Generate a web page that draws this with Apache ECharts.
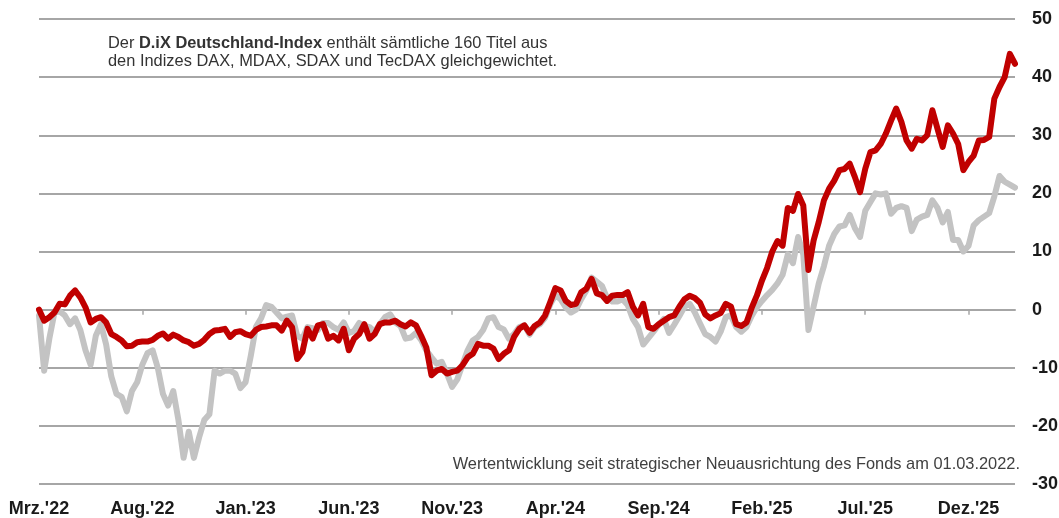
<!DOCTYPE html>
<html>
<head>
<meta charset="utf-8">
<script src="https://cdn.jsdelivr.net/npm/echarts@6/dist/echarts.min.js"></script>
<style>
html,body{margin:0;padding:0;background:#fff;}
#chart{width:1059px;height:518px;}
</style>
</head>
<body>
<div id="chart"></div>
<script>
// Tick labels (every 5 months starting March 2022)
const tickLabels = ["Mrz.'22","Aug.'22","Jan.'23","Jun.'23","Nov.'23","Apr.'24","Sep.'24","Feb.'25","Jul.'25","Dez.'25"];
// sampling step of the series below, in months since 01.03.2022
const stepMonths = 0.25;
// Fund performance in % (red)
const fundValues = [
 0,-1.9,-1.3,-0.5,1.0,0.9,2.4,3.3,2.1,0.4,
 -2.2,-1.6,-1.3,-2.2,-4.2,-4.7,-5.3,-6.3,-6.2,-5.6,
 -5.5,-5.5,-5.2,-4.5,-4.1,-5.0,-4.3,-4.7,-5.3,-5.6,
 -6.2,-5.9,-5.2,-4.2,-3.6,-3.5,-3.3,-4.7,-3.9,-3.7,
 -4.2,-4.5,-3.5,-3.0,-2.9,-2.7,-2.7,-3.6,-1.9,-3.0,
 -8.5,-7.3,-3.3,-5.0,-2.7,-2.5,-5.0,-4.5,-5.3,-3.3,
 -7.0,-5.0,-4.2,-2.5,-5.0,-4.2,-2.5,-2.2,-2.2,-1.9,
 -2.5,-2.9,-2.2,-2.7,-4.5,-6.5,-11.3,-10.5,-10.2,-11.0,
 -10.7,-10.5,-9.6,-8.2,-7.6,-5.9,-6.2,-6.2,-6.7,-8.5,
 -7.6,-7.0,-4.7,-3.3,-2.7,-4.0,-2.8,-2.2,-1.0,1.3,
 3.7,3.3,1.5,0.8,1.0,3.0,3.6,5.3,2.8,2.5,
 1.5,2.4,2.5,2.5,3.0,0.5,-1.0,1.0,-3.0,-3.3,
 -2.5,-1.9,-1.3,-1.0,0.5,1.8,2.4,2.0,1.2,-0.8,
 -1.5,-1.0,-0.6,1.0,0.5,-2.5,-2.8,-2.2,0.3,2.4,
 5.0,7.2,10.0,11.8,11.0,17.5,17.0,19.9,17.9,6.8,
 11.9,15.1,18.8,20.8,22.2,24.0,24.2,25.1,22.8,20.2,
 24.2,27.1,27.4,28.5,30.3,32.5,34.6,32.3,29.1,27.7,
 29.4,29.1,30.0,34.3,31.1,28.0,31.7,30.3,28.5,24.0,
 25.4,26.5,29.1,29.2,29.7,36.3,38.3,40.0,44.0,42.3
];
// D.iX Deutschland-Index performance in % (grey)
const indexValues = [
 -1.0,-10.5,-5.0,-0.5,-0.3,-1.0,-2.5,-1.5,-3.5,-7.0,
 -9.5,-4.5,-2.5,-6.0,-11.5,-14.5,-15.0,-17.5,-14.0,-12.5,
 -9.5,-7.5,-7.0,-10.0,-14.5,-16.5,-14.0,-19.0,-25.5,-21.0,
 -25.5,-22.0,-19.0,-18.0,-10.5,-11.0,-10.5,-10.5,-11.0,-13.5,
 -12.5,-8.0,-3.0,-1.5,0.8,0.5,-0.5,-1.5,-1.2,-1.0,
 -4.5,-5.0,-3.0,-3.2,-3.5,-2.3,-2.3,-3.0,-3.5,-2.2,
 -4.0,-3.7,-2.3,-2.8,-3.0,-3.8,-2.5,-1.3,-0.8,-2.2,
 -2.8,-5.0,-4.8,-4.0,-5.2,-7.0,-8.2,-9.3,-9.0,-11.0,
 -13.3,-12.0,-9.5,-7.0,-5.3,-4.7,-3.5,-1.5,-1.3,-3.0,
 -3.4,-5.0,-4.2,-3.0,-2.7,-4.3,-3.0,-2.5,-1.4,0.9,
 2.5,1.8,0.4,-0.5,0,1.8,3.3,5.5,4.8,4.1,
 2.0,1.4,1.4,1.8,0.8,-1.6,-3.0,-6.0,-4.9,-3.8,
 -2.6,-1.6,-4.0,-2.6,-1.1,0.5,1.0,-0.5,-2.4,-4.2,
 -4.7,-5.5,-3.8,-1.3,-1.0,-3.0,-3.8,-3.0,-1.1,0.4,
 1.5,2.5,3.4,4.5,6.0,9.5,8.0,12.5,9.5,-3.5,
 0.5,4.5,7.5,11.0,13.0,14.3,14.5,16.3,14.0,12.5,
 17.0,18.5,20.0,19.8,20.0,16.5,17.5,17.8,17.5,13.5,
 15.5,16.0,16.3,18.8,17.5,15.0,16.8,12.0,12.0,10.0,
 11.0,14.5,15.4,16.0,16.6,19.5,23.0,22.0,21.5,21.0
];

const tickValues = tickLabels.map((_, k) => k * 5);
const xMax = (fundValues.length - 1) * stepMonths;
const fundData = fundValues.map((v, i) => [i * stepMonths, v]);
const indexData = indexValues.map((v, i) => [i * stepMonths, v]);

const FONT = "'Liberation Sans', Arial, sans-serif";
const GRID = '#a6a6a6';

const chart = echarts.init(document.getElementById('chart'), null, {renderer: 'canvas'});
chart.setOption({
  animation: false,
  backgroundColor: '#ffffff',
  grid: {left: 39, right: 44, top: 19, bottom: 34, outerBoundsMode: 'none', containLabel: false},
  xAxis: [{
    type: 'value', min: 0, max: xMax, interval: 5, position: 'bottom',
    axisLine: {show: false, onZero: false},
    axisTick: {show: false},
    splitLine: {show: false},
    axisLabel: {
      customValues: tickValues,
      margin: 16,
      fontFamily: FONT, fontSize: 18, fontWeight: 'bold', color: '#1a1a1a',
      formatter: v => tickLabels[Math.round(v / 5)] || ''
    }
  }, {
    type: 'value', min: 0, max: xMax, interval: 5, position: 'bottom',
    axisLine: {show: true, onZero: true, lineStyle: {color: GRID, width: 2}},
    axisTick: {show: true, customValues: tickValues, length: 5, lineStyle: {color: GRID, width: 1.5}},
    splitLine: {show: false},
    axisLabel: {show: false}
  }],
  yAxis: {
    type: 'value', min: -30, max: 50, interval: 10, position: 'right',
    axisLine: {show: false}, axisTick: {show: false},
    splitLine: {show: true, lineStyle: {color: GRID, width: 2}},
    axisLabel: {margin: 17, fontFamily: FONT, fontSize: 18, fontWeight: 'bold', color: '#1a1a1a'}
  },
  series: [{
    name: 'D.iX Deutschland-Index', type: 'line', xAxisIndex: 0, data: indexData,
    showSymbol: false, smooth: false,
    lineStyle: {color: '#c3c3c3', width: 6, join: 'round', cap: 'round'}
  }, {
    name: 'Fonds', type: 'line', xAxisIndex: 0, data: fundData,
    showSymbol: false, smooth: false,
    lineStyle: {color: '#c00000', width: 6, join: 'round', cap: 'round'}
  }],
  graphic: [{
    type: 'text', left: 108, top: 35, z: 100,
    style: {
      text: '{n|Der }{b|D.iX Deutschland-Index}{n| enthält sämtliche 160 Titel aus}\n{n|den Indizes DAX, MDAX, SDAX und TecDAX gleichgewichtet.}',
      rich: {
        n: {fontFamily: FONT, fontSize: 16.4, fill: '#333333', color: '#333333', lineHeight: 18},
        b: {fontFamily: FONT, fontSize: 16.4, fontWeight: 'bold', fill: '#333333', color: '#333333', lineHeight: 18}
      }
    }
  }, {
    type: 'text', x: 1020, y: 464, z: 100,
    style: {
      text: 'Wertentwicklung seit strategischer Neuausrichtung des Fonds am 01.03.2022.',
      fontFamily: FONT, fontSize: 16.4, fill: '#404040', align: 'right', verticalAlign: 'middle'
    }
  }]
});
</script>
</body>
</html>
